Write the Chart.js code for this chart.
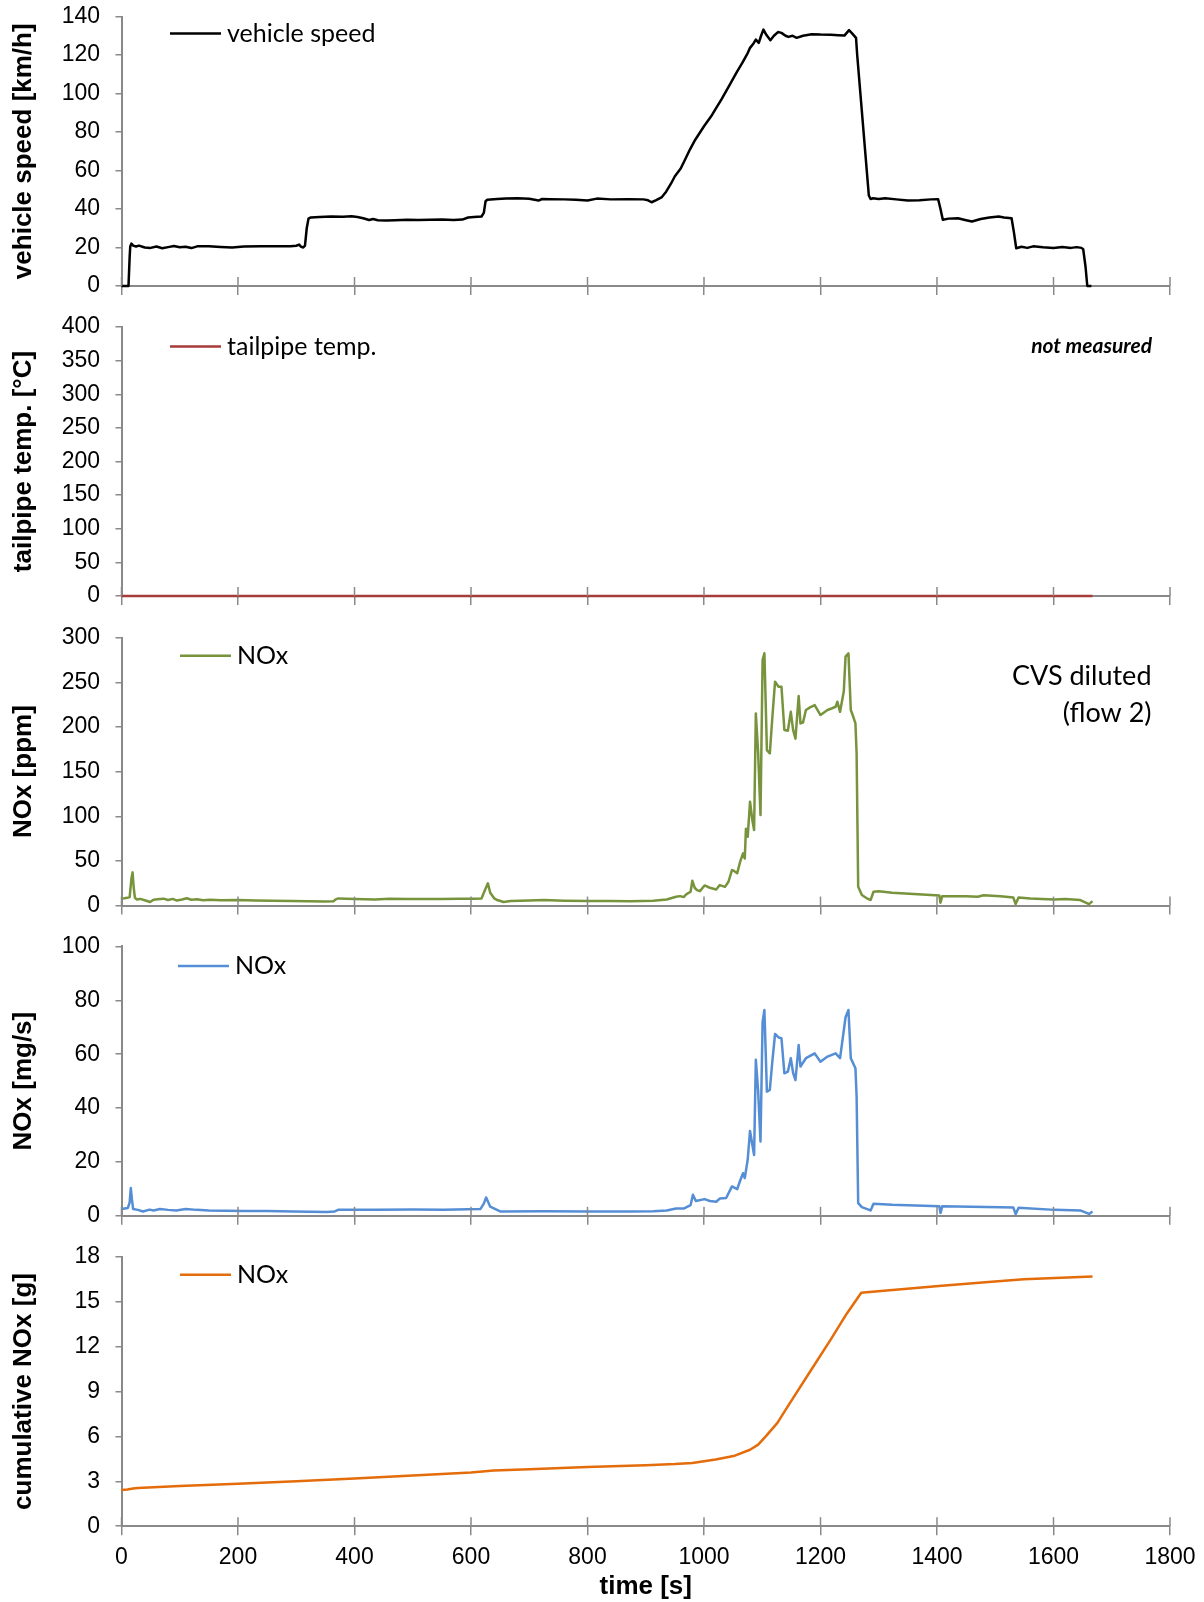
<!DOCTYPE html>
<html lang="en">
<head>
  <meta charset="UTF-8">
  <title>Vehicle speed and NOx emissions</title>
  <script src="https://cdn.jsdelivr.net/npm/chart.js"></script>
  <style>
    body {
      margin: 0;
      background: #fff;
    }
    #page {
      position: relative;
      width: 1204px;
      height: 1602px;
    }
    .panel {
      position: absolute;
      left: 0;
    }
  </style>
</head>
<body>
  <div id="page">
    <canvas class="panel" id="speedChart" width="1204" height="310" style="top:0"></canvas>
    <canvas class="panel" id="tempChart" width="1204" height="310" style="top:310px"></canvas>
    <canvas class="panel" id="ppmChart" width="1204" height="310" style="top:620px"></canvas>
    <canvas class="panel" id="mgsChart" width="1204" height="300" style="top:930px"></canvas>
    <canvas class="panel" id="cumChart" width="1204" height="372" style="top:1230px"></canvas>
  </div>

  <script>
    // x axis (time in s)
    const timeTicks = [0, 200, 400, 600, 800, 1000, 1200, 1400, 1600, 1800];

    // y axis ticks per panel
    const speedTicks = [0, 20, 40, 60, 80, 100, 120, 140];
    const tempTicks = [0, 50, 100, 150, 200, 250, 300, 350, 400];
    const ppmTicks = [0, 50, 100, 150, 200, 250, 300];
    const mgsTicks = [0, 20, 40, 60, 80, 100];
    const cumTicks = [0, 3, 6, 9, 12, 15, 18];

    // vehicle speed [km/h]
    const speedTime = [0, 12, 14, 15, 17, 20, 25, 30, 40, 50, 60, 70, 80, 90, 100, 110, 120, 130, 150, 170, 190, 210, 240, 270, 290, 300, 305, 308, 312, 315, 318, 321, 325, 340, 360, 380, 395, 405, 415, 425, 432, 440, 455, 470, 490, 510, 530, 550, 570, 585, 595, 605, 618, 622, 625, 628, 645, 660, 680, 700, 716, 722, 736, 760, 780, 800, 816, 840, 870, 896, 904, 910, 918, 927, 935, 943, 950, 960, 968, 976, 985, 1000, 1012, 1020, 1030, 1046, 1056, 1066, 1075, 1079, 1085, 1089, 1094, 1098, 1102, 1107, 1114, 1120, 1127, 1133, 1140, 1145, 1152, 1159, 1170, 1185, 1200, 1218, 1230, 1241, 1249, 1255, 1261, 1263, 1283, 1286, 1290, 1300, 1311, 1330, 1350, 1370, 1390, 1402, 1406, 1410, 1420, 1436, 1450, 1460, 1475, 1490, 1506, 1515, 1528, 1532, 1536, 1545, 1555, 1565, 1582, 1600, 1615, 1630, 1640, 1648, 1651, 1655, 1658, 1665];
    const speedVals = [0, 0, 15, 20.5, 22, 21, 20.5, 21, 20, 19.8, 20.5, 19.6, 20.2, 20.8, 20.1, 20.4, 19.7, 20.6, 20.7, 20.3, 20.0, 20.5, 20.6, 20.7, 20.6, 20.9, 21.5, 20.5, 20.0, 21, 30, 35, 35.6, 35.8, 36.1, 36, 36.2, 35.8, 35.2, 34.3, 34.8, 34.2, 34.0, 34.2, 34.4, 34.3, 34.4, 34.5, 34.3, 34.5, 35.6, 35.8, 36.1, 38, 44, 44.8, 45.2, 45.5, 45.6, 45.3, 44.4, 45.2, 45.1, 45.0, 44.8, 44.4, 45.4, 45.0, 45.1, 45.0, 44.5, 43.5, 44.6, 46.0, 49, 53, 57, 61, 66, 71, 76, 83, 88, 92, 97, 105.5, 111, 116, 121, 123.7, 126, 128, 126.3, 130, 133.2, 130.5, 127.7, 130, 131.9, 131.5, 130, 129.4, 130, 128.9, 130, 130.8, 130.6, 130.5, 130.3, 130.1, 132.9, 131, 128.9, 120, 47, 45.2, 45.6, 45.2, 45.6, 45, 44.4, 44.6, 45, 45.1, 40, 34.4, 35, 35.2, 34.2, 33.5, 34.8, 35.6, 36.1, 35.6, 35.2, 28, 19.6, 20.4, 19.8, 20.6, 20.1, 19.8, 20.3, 19.8, 20.2, 19.8, 19.1, 10, 0, 0];

    // tailpipe temperature [°C] (not measured)
    const tempTime = [0, 1667];
    const tempVals = [0, 0];

    // NOx concentration [ppm]
    const ppmTime = [0, 5, 10, 14, 17, 19, 21, 23, 26, 32, 40, 49, 55, 62, 72, 80, 88, 95, 104, 112, 120, 130, 140, 152, 170, 201, 230, 260, 292, 320, 349, 364, 368, 372, 400, 435, 460, 492, 520, 549, 580, 605, 618, 624, 629, 633, 640, 645, 656, 668, 700, 725, 760, 803, 840, 873, 913, 936, 952, 959, 965, 970, 977, 980, 984, 988, 993, 1001, 1010, 1021, 1027, 1036, 1042, 1048, 1051, 1057, 1062, 1067, 1070, 1072, 1075, 1079, 1083, 1086, 1089, 1093, 1097, 1100.6, 1103.7, 1108, 1113, 1117, 1122, 1128, 1133, 1138, 1144, 1149, 1153, 1157, 1162.5, 1165.6, 1170, 1175, 1182, 1190, 1200, 1212, 1220, 1226, 1229, 1233.6, 1240, 1243, 1248, 1252, 1256, 1260, 1262, 1264.7, 1271, 1280, 1286, 1291, 1300, 1323, 1360, 1404, 1406, 1409, 1413, 1450, 1470, 1480, 1509, 1531, 1535, 1540, 1560, 1580, 1602, 1620, 1646, 1661, 1667];
    const ppmVals = [8.0, 8.3, 8.7, 9.5, 30, 37.2, 20, 9, 6.9, 7.5, 6.0, 4.0, 6.5, 7.0, 7.8, 6.2, 7.5, 5.6, 6.8, 8.2, 6.5, 7.0, 6.0, 6.6, 6.0, 6.2, 5.8, 5.5, 5.1, 4.9, 4.7, 5.0, 7.0, 8.0, 7.5, 6.9, 7.6, 7.3, 7.5, 7.3, 7.6, 7.8, 8.0, 17.4, 24.9, 14.4, 8, 6.2, 4.0, 5.1, 5.6, 6.2, 5.5, 5.1, 5.2, 4.9, 5.4, 6.9, 9.9, 10.6, 9.5, 12.8, 15.5, 27.8, 20, 17.4, 16.2, 22.6, 20, 18.1, 23, 21, 26.7, 39.8, 39.1, 36.3, 49, 58.5, 52.8, 86, 77, 116.3, 95.8, 84.6, 215, 170.5, 101.4, 275, 282.5, 174, 170.5, 207.8, 250.8, 245, 245, 196.6, 195.8, 217, 196.6, 187, 234.7, 204, 205, 219, 222, 224.6, 213.4, 219, 221, 222.7, 228.3, 217, 240, 278.8, 282.5, 219, 212, 204, 170.5, 21, 11.8, 8, 6.2, 15.5, 16, 14.4, 13, 11.4, 3.2, 10.6, 10.6, 10.4, 10, 11.5, 10.6, 9.1, 1.7, 9.1, 8, 7.5, 6.9, 7.5, 6.2, 1.7, 5];

    // NOx mass flow [mg/s]
    const mgsTime = [0, 11, 14, 16, 18, 20, 28, 37, 48, 55, 66, 80, 94, 110, 129, 150, 209, 250, 295, 352, 366, 372, 438, 500, 553, 616, 622, 626, 633, 650, 725, 800, 873, 913, 936, 952, 965, 977, 981, 986, 1001, 1010, 1021, 1027, 1038, 1048, 1057, 1062, 1067, 1070, 1075, 1079, 1086, 1089, 1093, 1097, 1100.6, 1103.7, 1108, 1113, 1117, 1122, 1128, 1133, 1138, 1144, 1149, 1153, 1157, 1162.5, 1165.6, 1175, 1190, 1200, 1212, 1226, 1233.6, 1243, 1248, 1252, 1260, 1262, 1264.7, 1271, 1286, 1291, 1323, 1404, 1406, 1409, 1509, 1531, 1535, 1540, 1602, 1646, 1661, 1667];
    const mgsVals = [2.5, 2.9, 5, 10.3, 6, 2.5, 2.2, 1.6, 2.3, 2.0, 2.5, 2.2, 2.0, 2.5, 2.2, 2.0, 1.8, 1.8, 1.6, 1.4, 1.6, 2.2, 2.2, 2.3, 2.2, 2.5, 4.5, 6.8, 3.4, 1.6, 1.7, 1.6, 1.6, 1.7, 2.0, 2.7, 2.7, 4.0, 7.8, 5.5, 6.2, 5.5, 5.2, 6.4, 6.6, 10.9, 9.9, 13, 15.8, 14, 20.8, 31.5, 22.6, 57.9, 46.1, 27.6, 72, 76.4, 46.1, 46.7, 56.6, 67.5, 66.2, 65.9, 52.9, 53.5, 58.5, 53, 50.4, 63.4, 55.4, 58.5, 60.3, 57.2, 59.1, 60.3, 58.5, 73.7, 76.4, 58.5, 54.8, 44.3, 4.7, 3.2, 2.0, 4.5, 4.1, 3.5, 1.0, 3.5, 3.2, 3.1, 0.6, 3.0, 2.2, 2.0, 0.7, 1.6];

    // cumulative NOx [g]
    const cumTime = [0, 10, 20, 28, 100, 200, 300, 400, 500, 600, 639, 700, 800, 900, 950, 980, 1020, 1053, 1079, 1093, 1106, 1126, 1146, 1185, 1218, 1245, 1270, 1284, 1403, 1483, 1549, 1667];
    const cumVals = [2.42, 2.45, 2.52, 2.56, 2.68, 2.83, 3.0, 3.18, 3.38, 3.59, 3.72, 3.8, 3.95, 4.08, 4.15, 4.22, 4.45, 4.71, 5.11, 5.45, 6.0, 6.9, 8.14, 10.5, 12.5, 14.2, 15.6, 15.65, 16.05, 16.3, 16.5, 16.68];

    const axisGray = '#898989';
    Chart.defaults.font.family = "'Liberation Sans', Arial, sans-serif";
    Chart.defaults.color = '#000';

    // legend drawn inside the plot, top left
    const insideLegend = {
      id: 'insideLegend',
      afterDraw(chart, args, opts) {
        const { ctx, chartArea } = chart;
        const ds = chart.data.datasets[0];
        const x = chartArea.left + opts.dx;
        const y = chartArea.top + opts.dy;
        ctx.save();
        ctx.strokeStyle = ds.borderColor;
        ctx.lineWidth = 2.5;
        ctx.beginPath();
        ctx.moveTo(x, y);
        ctx.lineTo(x + 51, y);
        ctx.stroke();
        ctx.fillStyle = '#000';
        ctx.font = '25px Lato';
        ctx.textBaseline = 'middle';
        ctx.fillText(ds.label, x + 57, y);
        ctx.restore();
      }
    };

    // note text in the top right corner
    const cornerNote = {
      id: 'cornerNote',
      afterDraw(chart, args, opts) {
        if (!opts.lines) return;
        const { ctx, chartArea } = chart;
        ctx.save();
        ctx.fillStyle = '#000';
        ctx.font = opts.font;
        ctx.textAlign = 'right';
        ctx.textBaseline = 'middle';
        opts.lines.forEach((line, i) => {
          ctx.fillText(line, chartArea.right - opts.dx, chartArea.top + opts.dy + i * opts.gap);
        });
        ctx.restore();
      }
    };

    // tick marks on the x axis cross the axis (inner half drawn here)
    const crossTicks = {
      id: 'crossTicks',
      afterDatasetsDraw(chart) {
        const { ctx, chartArea } = chart;
        const xs = chart.scales.x;
        ctx.save();
        ctx.strokeStyle = axisGray;
        ctx.lineWidth = 1.5;
        xs.ticks.forEach(t => {
          const px = xs.getPixelForValue(t.value);
          ctx.beginPath();
          ctx.moveTo(px, chartArea.bottom);
          ctx.lineTo(px, chartArea.bottom - 9);
          ctx.stroke();
        });
        ctx.restore();
      }
    };

    function makePanel(id, p) {
      const points = p.time.map((t, i) => ({ x: t, y: p.vals[i] }));
      return new Chart(document.getElementById(id), {
        type: 'line',
        data: {
          datasets: [{
            label: p.label,
            data: points,
            borderColor: p.color,
            borderWidth: 2.5,
            borderJoinStyle: 'round',
            pointRadius: 0,
            tension: 0,
            fill: false,
            clip: false
          }]
        },
        options: {
          responsive: false,
          animation: false,
          events: [],
          layout: { padding: { top: p.top, left: 0, right: 34, bottom: 0 } },
          plugins: {
            legend: { display: false },
            tooltip: { enabled: false },
            insideLegend: p.legend,
            cornerNote: p.note || {}
          },
          scales: {
            x: {
              type: 'linear',
              min: 0,
              max: 1800,
              afterBuildTicks: s => { s.ticks = timeTicks.map(v => ({ value: v })); },
              afterFit: s => {
                s.height = p.xHeight;
                s.paddingLeft = 0;
                s.paddingRight = 0;
              },
              border: { color: axisGray, width: 2 },
              grid: { drawOnChartArea: false, tickLength: 9, color: axisGray, lineWidth: 1.5 },
              ticks: { display: p.showX, padding: 9, font: { size: 23 }, maxRotation: 0, callback: v => String(v) },
              title: {
                display: p.showX,
                text: 'time [s]',
                font: { size: 26, weight: 'bold' },
                padding: { top: 0, bottom: 0 }
              }
            },
            y: {
              min: p.ticks[0],
              max: p.ticks[p.ticks.length - 1],
              afterBuildTicks: s => { s.ticks = p.ticks.map(v => ({ value: v })); },
              afterFit: s => {
                s.width = 121.5;
                s.paddingTop = 0;
                s.paddingBottom = 0;
              },
              border: { color: axisGray, width: 2 },
              grid: { drawOnChartArea: false, tickLength: 6, color: axisGray, lineWidth: 1.5 },
              ticks: { padding: 15.5, font: { size: 23 }, callback: v => String(v) },
              title: {
                display: true,
                text: p.yTitle,
                font: { size: 26, weight: 'bold' },
                padding: { top: 8, bottom: 0 }
              }
            }
          }
        },
        plugins: [crossTicks, insideLegend, cornerNote]
      });
    }

    makePanel('speedChart', {
      time: speedTime, vals: speedVals, ticks: speedTicks,
      label: 'vehicle speed', color: '#000000', yTitle: 'vehicle speed [km/h]',
      top: 16.5, xHeight: 24, showX: false,
      legend: { dx: 48.5, dy: 17 }
    });

    makePanel('tempChart', {
      time: tempTime, vals: tempVals, ticks: tempTicks,
      label: 'tailpipe temp.', color: '#a63c39', yTitle: 'tailpipe temp. [°C]',
      top: 17, xHeight: 24, showX: false,
      legend: { dx: 48.5, dy: 19.5 },
      note: { lines: ['not measured'], font: 'italic bold 21px Lato', dx: 18, dy: 19.5, gap: 0 }
    });

    makePanel('ppmChart', {
      time: ppmTime, vals: ppmVals, ticks: ppmTicks,
      label: 'NOx', color: '#77933c', yTitle: 'NOx [ppm]',
      top: 17.7, xHeight: 24.4, showX: false,
      legend: { dx: 58.5, dy: 18 },
      note: { lines: ['CVS diluted', '(flow 2)'], font: '27px Lato', dx: 18.5, dy: 39, gap: 37 }
    });

    makePanel('mgsChart', {
      time: mgsTime, vals: mgsVals, ticks: mgsTicks,
      label: 'NOx', color: '#558ed5', yTitle: 'NOx [mg/s]',
      top: 16.4, xHeight: 14.2, showX: false,
      legend: { dx: 56.5, dy: 19.6 }
    });

    makePanel('cumChart', {
      time: cumTime, vals: cumVals, ticks: cumTicks,
      label: 'NOx', color: '#e46c0a', yTitle: 'cumulative NOx [g]',
      top: 26.8, xHeight: 75.8, showX: true,
      legend: { dx: 58.5, dy: 18 }
    });
  </script>
</body>
</html>
